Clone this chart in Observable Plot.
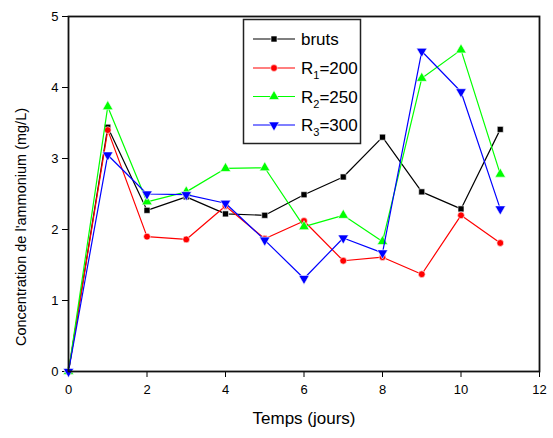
<!DOCTYPE html>
<html><head><meta charset="utf-8">
<script src="https://cdn.jsdelivr.net/npm/d3@7"></script>
<script src="https://cdn.jsdelivr.net/npm/@observablehq/plot@0.6"></script>
<style>
body{margin:0;background:#fff;}
#chart{position:relative;width:553px;height:438px;font-family:Arial,"Liberation Sans",sans-serif;}
#legend{position:absolute;left:0;top:0;pointer-events:none;}
</style></head><body><div id="chart"></div>
<script>
// ---- data ----
const days   = [0, 1, 2, 3, 4, 5, 6, 7, 8, 9, 10, 11];
const bruts  = [0, 3.44, 2.27, 2.46, 2.22, 2.20, 2.49, 2.74, 3.30, 2.53, 2.29, 3.41];
const r1_200 = [0, 3.40, 1.90, 1.86, 2.33, 1.87, 2.12, 1.56, 1.61, 1.37, 2.20, 1.81];
const r2_250 = [0, 3.73, 2.39, 2.53, 2.86, 2.87, 2.04, 2.20, 1.83, 4.13, 4.53, 2.78];
const r3_300 = [0, 3.05, 2.50, 2.49, 2.37, 1.85, 1.31, 1.88, 1.67, 4.51, 3.94, 2.29];
const seriesValues = [bruts, r1_200, r2_250, r3_300];
const legendBase = ["bruts", "R", "R", "R"];
const legendSub  = ["", "1", "2", "3"];
const legendRest = ["", "=200", "=250", "=300"];
const seriesColors = ["#000000", "#ff0000", "#00ff00", "#0000ff"];
const xTicks = [0, 2, 4, 6, 8, 10, 12];
const yTicks = [0, 1, 2, 3, 4, 5];
const xLabel = "Temps (jours)";
const yLabel = "Concentration de l'ammonium (mg/L)";

// ---- symbols ----
const triangleDown = {
  draw(context, size) {
    const s3 = Math.sqrt(3);
    const y = -Math.sqrt(size / (s3 * 3));
    context.moveTo(0, -y * 2);
    context.lineTo(-s3 * y, y);
    context.lineTo(s3 * y, y);
    context.closePath();
  }
};
const symbols = [d3.symbolSquare, d3.symbolCircle, d3.symbolTriangle, triangleDown];
const radii = [3.4, 3.4, 3.9, 3.9];

const marks = [];
seriesValues.forEach((vals, i) => {
  const rows = days.map((t, j) => ({t, v: vals[j]}));
  marks.push(Plot.line(rows, {x: "t", y: "v", stroke: seriesColors[i], strokeWidth: 1.2}));
  marks.push(Plot.dot(rows, {x: "t", y: "v", symbol: symbols[i], r: radii[i], fill: seriesColors[i], stroke: "white", strokeWidth: 0.6}));
});

const plot = Plot.plot({
  width: 553, height: 438,
  marginLeft: 68, marginRight: 14, marginTop: 16, marginBottom: 67,
  style: {fontSize: "13px", fontFamily: "Arial, 'Liberation Sans', sans-serif", background: "white", color: "black"},
  x: {domain: [0, 12], ticks: xTicks, tickFormat: d3.format("d"), tickSize: 6, tickPadding: 7, label: null},
  y: {domain: [0, 5], ticks: yTicks, tickFormat: d3.format("d"), tickSize: 6, tickPadding: 4, label: null},
  marks: [
    ...marks,
    Plot.frame({stroke: "#111", strokeWidth: 1.8}),
    Plot.text([xLabel], {text: d => d, frameAnchor: "bottom", dy: 52, fontSize: 17}),
    Plot.text([yLabel], {text: d => d, frameAnchor: "left", textAnchor: "middle", dx: -47, dy: 33, rotate: -90, fontSize: 14.5})
  ]
});
const chart = document.getElementById("chart");
chart.appendChild(plot);

// ---- legend ----
const lg = d3.create("svg").attr("id", "legend").attr("width", 553).attr("height", 438);
const L = {x: 243.5, y: 19.5, w: 117, h: 124};
lg.append("rect").attr("x", L.x).attr("y", L.y).attr("width", L.w).attr("height", L.h)
  .attr("fill", "white").attr("stroke", "#222").attr("stroke-width", 1.5);
const rowY = [39, 68, 96.5, 125];
legendBase.forEach((b, i) => {
  const g = lg.append("g").attr("transform", `translate(0,${rowY[i]})`);
  g.append("line").attr("x1", 253).attr("x2", 295).attr("y1", 0).attr("y2", 0)
    .attr("stroke", seriesColors[i]).attr("stroke-width", 1.2);
  g.append("path").attr("transform", "translate(274,0)")
    .attr("d", d3.symbol(symbols[i], Math.PI * radii[i] * radii[i])())
    .attr("fill", seriesColors[i]).attr("stroke", "white").attr("stroke-width", 0.6);
  const t = g.append("text").attr("x", 301).attr("y", 6).attr("font-size", 17)
    .attr("font-family", "Arial, 'Liberation Sans', sans-serif").attr("fill", "black");
  t.append("tspan").text(b);
  if (legendSub[i]) {
    t.append("tspan").attr("dy", 5).attr("font-size", 11).text(legendSub[i]);
    t.append("tspan").attr("dy", -5).text(legendRest[i]);
  }
});
chart.appendChild(lg.node());
</script>
</body></html>
